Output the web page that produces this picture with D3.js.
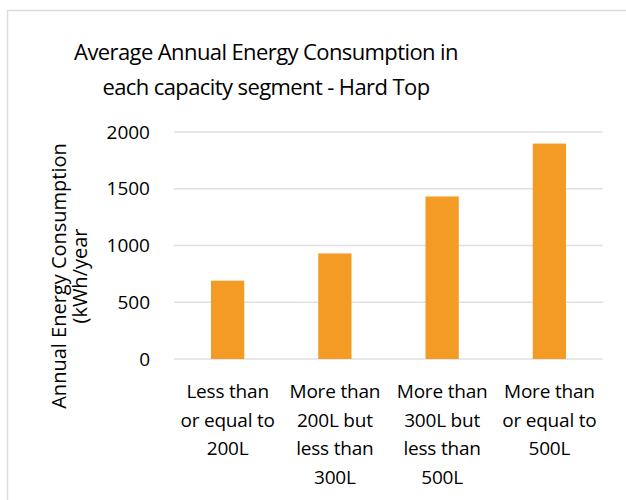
<!DOCTYPE html>
<html>
<head>
<meta charset="utf-8">
<script src="https://d3js.org/d3.v7.min.js"></script>
<style>
  body { margin: 0; background: #fff; }
  svg text { font-family: "Open Sans", "Noto Sans", sans-serif; fill: #000; }
</style>
</head>
<body>
<div id="chart"></div>
<script>
// data
const categories = [
  ["Less than", "or equal to", "200L"],
  ["More than", "200L but", "less than", "300L"],
  ["More than", "300L but", "less than", "500L"],
  ["More than", "or equal to", "500L"]
];
const values = [690, 930, 1432, 1898];
const yTicks = [0, 500, 1000, 1500, 2000];
const titleLines = ["Average Annual Energy Consumption in", "each capacity segment - Hard Top"];
const yTitleLines = ["Annual Energy Consumption", "(kWh/year"];

const svgWidth = 626;
const svgHeight = 500;
const margin = { top: 132, right: 23, bottom: 141, left: 174 };
const width = svgWidth - margin.left - margin.right;
const height = svgHeight - margin.top - margin.bottom;

const root = d3.select("#chart")
  .append("svg")
  .attr("width", svgWidth)
  .attr("height", svgHeight);

// chart frame
root.append("rect")
  .attr("x", 7.5).attr("y", 10.5)
  .attr("width", 640).attr("height", 520)
  .attr("fill", "none")
  .attr("stroke", "#dcdce0")
  .attr("stroke-width", 1.5);

// title
root.append("text")
  .attr("text-anchor", "middle")
  .attr("font-size", 22)
  .attr("letter-spacing", -0.6)
  .selectAll("tspan")
  .data(titleLines)
  .join("tspan")
  .attr("x", 266)
  .attr("y", (d, i) => 60 + i * 35)
  .text(d => d);

const svg = root.append("g")
  .attr("transform", `translate(${margin.left},${margin.top})`);

const x = d3.scaleBand()
  .domain(d3.range(categories.length))
  .range([0, width])
  .paddingInner(0.69)
  .paddingOuter(0.345);

const y = d3.scaleLinear()
  .domain([0, 2000])
  .range([height, 0]);

// gridlines
svg.append("g")
  .selectAll("line")
  .data(yTicks)
  .join("line")
  .attr("x1", 0)
  .attr("x2", width)
  .attr("y1", d => y(d))
  .attr("y2", d => y(d))
  .attr("stroke", "#e0e0e4")
  .attr("stroke-width", 1.5);

// y axis labels
const yAxis = svg.append("g")
  .attr("transform", "translate(-24,0)")
  .call(d3.axisLeft(y).tickValues(yTicks).tickFormat(d3.format("d")).tickSize(0).tickPadding(0));
yAxis.select(".domain").remove();
yAxis.selectAll("text")
  .attr("font-size", 19)
  .style("font-family", "\"Open Sans\", \"Noto Sans\", sans-serif")
  .attr("fill", "#000");

// bars
svg.selectAll("rect.bar")
  .data(values)
  .join("rect")
  .attr("class", "bar")
  .attr("x", (d, i) => x(i))
  .attr("y", d => y(d))
  .attr("width", x.bandwidth())
  .attr("height", d => height - y(d))
  .attr("fill", "#f39b25");

// x labels
svg.append("g")
  .selectAll("text")
  .data(categories)
  .join("text")
  .attr("text-anchor", "middle")
  .attr("font-size", 19)
  .attr("letter-spacing", -0.2)
  .each(function (lines, i) {
    d3.select(this).selectAll("tspan")
      .data(lines)
      .join("tspan")
      .attr("x", x(i) + x.bandwidth() / 2)
      .attr("y", (d, j) => height + 39 + j * 28.7)
      .text(d => d);
  });

// y axis title
root.append("text")
  .attr("text-anchor", "middle")
  .attr("font-size", 20)
  .attr("transform", "translate(0,276) rotate(-90)")
  .selectAll("tspan")
  .data(yTitleLines)
  .join("tspan")
  .attr("x", 0)
  .attr("y", (d, i) => 66 + i * 21)
  .text(d => d);
</script>
</body>
</html>
